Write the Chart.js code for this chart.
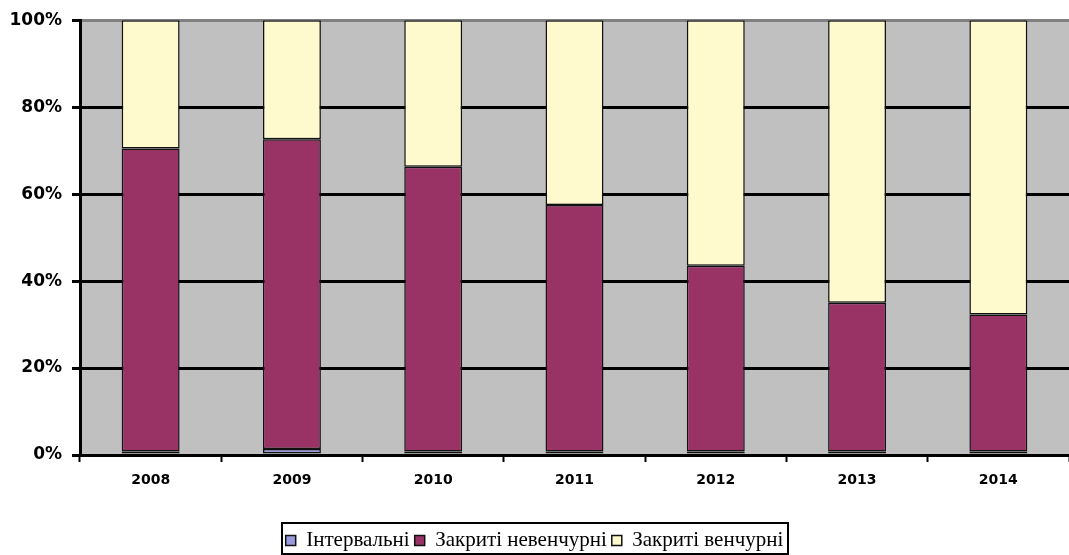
<!DOCTYPE html>
<html>
<head>
<meta charset="utf-8">
<script src="https://cdn.jsdelivr.net/npm/chart.js@4/dist/chart.umd.min.js"></script>
<style>
  body { margin: 0; background: #fff; }
  #wrap { width: 1069px; height: 555px; }
</style>
</head>
<body>
<div id="wrap"><canvas id="barChart" width="1069" height="555"></canvas></div>
<script>
// values in percent
const years = ['2008', '2009', '2010', '2011', '2012', '2013', '2014'];
const interval = [0.8, 1.4, 0.8, 0.8, 0.8, 0.8, 0.8];
const closedNonVenture = [69.7, 71.2, 65.5, 56.7, 42.7, 34.2, 31.5];
const closedVenture = [29.5, 27.4, 33.7, 42.5, 56.5, 65.0, 67.7];
const yTicks = [0, 20, 40, 60, 80, 100];

const plotBg = {
    id: 'plotBg',
    beforeDraw(chart) {
        const a = chart.chartArea;
        const ctx = chart.ctx;
        ctx.save();
        ctx.fillStyle = '#C0C0C0';
        ctx.fillRect(a.left, a.top, a.right - a.left, a.bottom - a.top);
        ctx.restore();
    }
};

const legendBorder = {
    id: 'legendBorder',
    afterDraw(chart) {
        const boxes = chart.legend.legendHitBoxes;
        if (!boxes || !boxes.length) return;
        let l = Infinity, r = -Infinity, t = Infinity;
        boxes.forEach(h => {
            l = Math.min(l, h.left); r = Math.max(r, h.left + h.width);
            t = Math.min(t, h.top);
        });
        const ctx = chart.ctx;
        ctx.save();
        ctx.strokeStyle = '#000';
        ctx.lineWidth = 2;
        ctx.strokeRect(Math.round(l - 4), Math.round(t - 7), Math.round(r - l + 8), chart.height - Math.round(t - 7) - 1);
        ctx.restore();
    }
};

const barChart = document.getElementById('barChart').getContext('2d');

const myBarChart = new Chart(barChart, {
    type: 'bar',
    data: {
        labels: years,
        datasets: [{
            label: 'Інтервальні',
            data: interval,
            backgroundColor: '#9999DD',
            borderColor: '#111',
            borderWidth: 1.5,
            borderSkipped: false,
        }, {
            label: 'Закриті невенчурні',
            data: closedNonVenture,
            backgroundColor: '#993366',
            borderColor: '#111',
            borderWidth: 1.5,
            borderSkipped: false,
        }, {
            label: 'Закриті венчурні',
            data: closedVenture,
            backgroundColor: '#FFFACD',
            borderColor: '#111',
            borderWidth: 1.5,
            borderSkipped: false,
        }]
    },
    plugins: [plotBg, legendBorder],
    options: {
        responsive: false,
        animation: false,
        layout: { padding: { top: 20, right: 0, left: 0, bottom: -6 } },
        datasets: {
            bar: { categoryPercentage: 1, barPercentage: 0.41 }
        },
        plugins: {
            tooltip: { enabled: false },
            legend: {
                position: 'bottom',
                labels: {
                    color: '#000',
                    font: { family: '"Liberation Serif", "Times New Roman", serif', size: 21 },
                    boxWidth: 10,
                    boxHeight: 10,
                    padding: 5,
                }
            }
        },
        scales: {
            x: {
                stacked: true,
                grid: {
                    offset: true,
                    drawOnChartArea: false,
                    drawTicks: true,
                    tickLength: 7,
                    tickColor: '#000',
                    tickWidth: 2,
                },
                border: { color: '#000', width: 3 },
                ticks: {
                    color: '#000',
                    font: { family: '"DejaVu Sans", Verdana, sans-serif', size: 14, weight: 'bold' },
                    padding: 10,
                },
                afterFit(scale) { scale.height = 70; }
            },
            y: {
                stacked: true,
                min: 0,
                max: 100,
                afterBuildTicks(scale) { scale.ticks = yTicks.map(v => ({ value: v })); },
                grid: {
                    color: ctx => (ctx.tick && ctx.tick.value === 100) ? '#808080' : '#000',
                    lineWidth: 3,
                    drawTicks: true,
                    tickLength: 8,
                    tickColor: '#000',
                },
                border: { color: '#000', width: 3 },
                ticks: {
                    color: '#000',
                    font: { family: '"DejaVu Sans", Verdana, sans-serif', size: 17, weight: 'bold' },
                    padding: 10,
                    callback: v => v + '%'
                },
                afterFit(scale) { scale.width = 80; }
            }
        }
    }
});
</script>
</body>
</html>
